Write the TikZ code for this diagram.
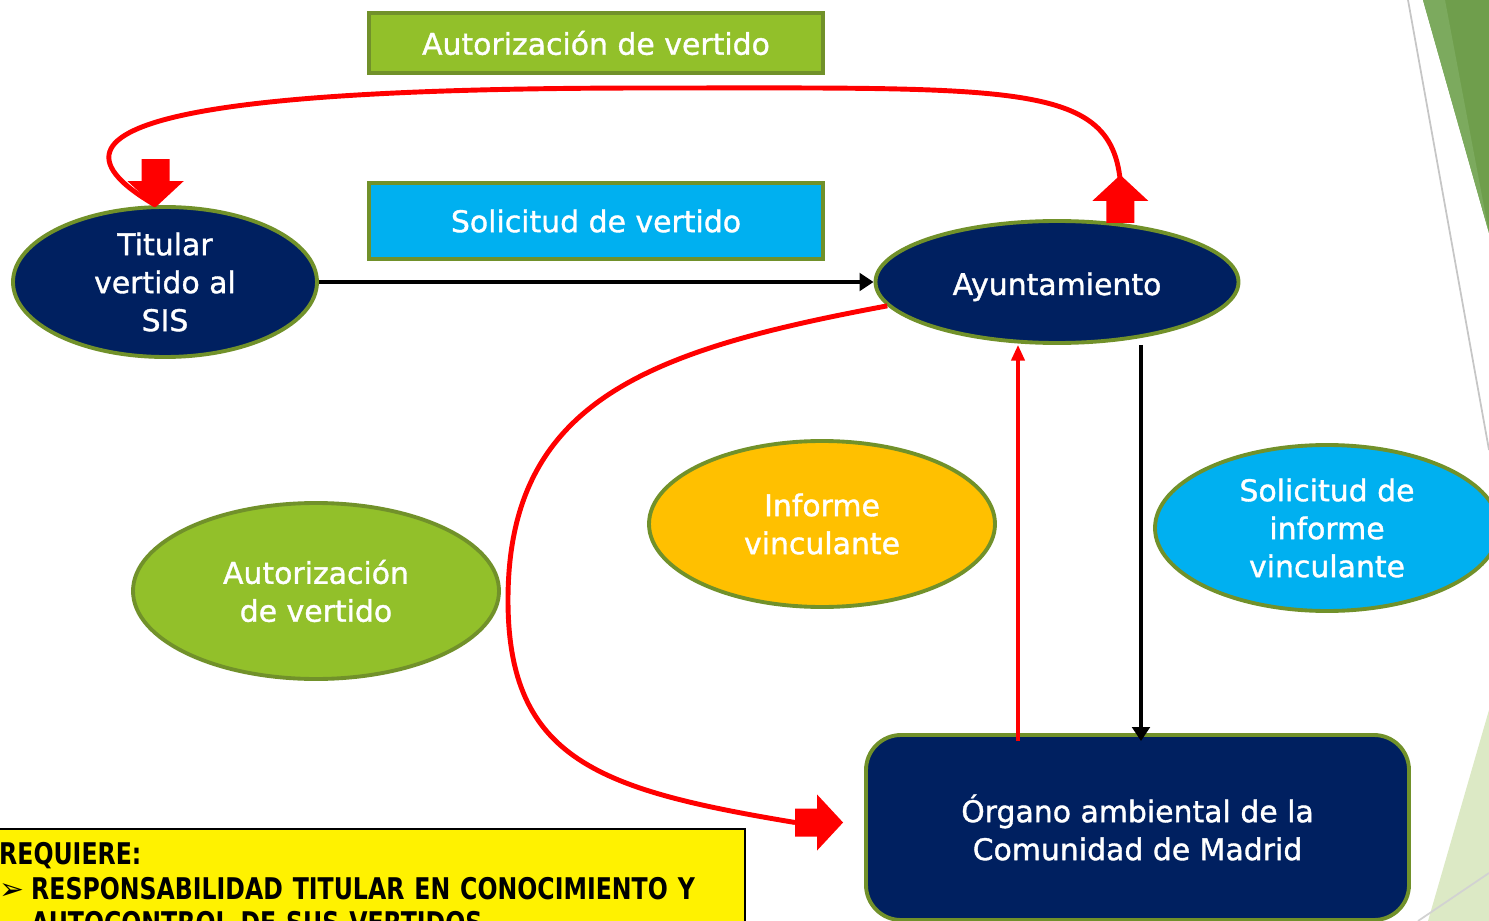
\documentclass[tikz,border=0pt]{standalone}
\usepackage{fontspec}
\setmainfont[FakeBold=1.2]{DejaVu Sans}
\newfontfamily\reqfont[FakeStretch=0.79]{DejaVu Sans}
\newfontfamily\symfont{DejaVu Sans}
\usetikzlibrary{shapes,arrows.meta,positioning,calc}
\definecolor{navy}{HTML}{002060}
\definecolor{olive}{HTML}{71912A}
\definecolor{leaf}{HTML}{92C02A}
\definecolor{sky}{HTML}{00B0F0}
\definecolor{amber}{HTML}{FFC000}
\definecolor{leafdark}{HTML}{6F9E4C}
\definecolor{leaflight}{HTML}{7CAA5E}
\definecolor{pale}{HTML}{DCE9C5}

\begin{document}
\begin{tikzpicture}[
    font=\fontsize{8.5}{10.8}\selectfont,
    box/.style={draw=olive, line width=1pt, text=white, minimum width=4.54cm},
    oval/.style={ellipse, draw=olive, line width=1.1pt, text=white, align=center, inner sep=0pt},
    blk/.style={-{Triangle[length=4pt,width=5pt]}, line width=1.1pt},
    redarr/.style={red, -{Triangle[length=4.5pt,width=3.8pt]}, line width=0.95pt},
    redcurve/.style={red, line width=1.4pt},
    blockarr/.pic={\fill[red] (0,0.14) -- (0.22,0.14) -- (0.22,0.28) -- (0.48,0) -- (0.22,-0.28) -- (0.22,-0.14) -- (0,-0.14) -- cycle;}
]
    \useasboundingbox (0,0) rectangle (14.89,-9.21);
    \clip (0,0) rectangle (14.89,-9.21);
    % Slide corner
    \draw[gray!45, line width=0.5pt] (14.08,0) -- (14.89,-4.5);
    \fill[leafdark] (14.23,0) -- (14.89,0) -- (14.89,-2.33) -- cycle;
    \fill[leaflight] (14.23,0) -- (14.45,0) -- (14.89,-2.33) -- cycle;
    \fill[pale] (14.89,-7.10) -- (14.28,-9.21) -- (14.89,-9.21) -- cycle;
    \draw[gray!35, line width=0.5pt] (14.18,-9.21) -- (14.89,-8.73);
    % Boxes
    \node[box, fill=leaf, minimum height=0.60cm] (autTop) at (5.96,-0.43) {Autorización de vertido};
    \node[box, fill=sky, minimum height=0.76cm] (solTop) at (5.96,-2.21) {Solicitud de vertido};
    % Ellipses
    \node[oval, fill=navy, minimum width=3.04cm, minimum height=1.50cm] (tit) at (1.65,-2.82) {Titular\\vertido al\\SIS};
    \node[oval, fill=navy, minimum width=3.63cm, minimum height=1.22cm, text height=0.26cm, text depth=0cm] (ayto) at (10.57,-2.82) {Ayuntamiento};
    \node[oval, fill=amber, minimum width=3.46cm, minimum height=1.66cm] (inf) at (8.22,-5.24) {Informe\\vinculante};
    \node[oval, fill=sky, minimum width=3.44cm, minimum height=1.66cm] (solInf) at (13.27,-5.28) {Solicitud de\\informe\\vinculante};
    \node[oval, fill=leaf, minimum width=3.66cm, minimum height=1.76cm] (autEll) at (3.16,-5.91) {Autorización\\de vertido};
    \node[draw=olive, line width=1.1pt, fill=navy, text=white, align=center, rounded corners=0.35cm,
          minimum width=5.43cm, minimum height=1.85cm] (org) at (11.375,-8.275) {Órgano ambiental de la\\Comunidad de Madrid};
    % Requirement note
    \node[draw=black, line width=0.7pt, fill=yellow, anchor=north west, align=left, text width=7.28cm,
          inner xsep=0.18cm, inner ysep=0.13cm, font=\reqfont\bfseries\fontsize{8.5}{9.9}\selectfont] (req) at (-0.2,-8.28)
          {REQUIERE:\\\makebox[0.32cm][l]{\symfont ➢}RESPONSABILIDAD TITULAR EN CONOCIMIENTO Y\\\hspace*{0.32cm}AUTOCONTROL DE SUS VERTIDOS};
    % Black arrows
    \draw[blk] (tit) -- (ayto);
    \coordinate (dn0) at ([xshift=0.84cm]ayto.south);
    \draw[blk, shorten >=-0.08cm] (dn0) -- (dn0 |- org.north);
    % Red arrows
    \coordinate (up0) at ([xshift=-1.195cm]org.north);
    \draw[redarr] ([yshift=-0.08cm]up0) -- (up0 |- ayto.south);
    \draw[redcurve] (ayto.43) .. controls (11.30,-0.80) and (10.60,-0.88) .. (6.50,-0.88)
        .. controls (2.50,-0.88) and (0,-1.15) .. (tit.97);
    \pic[rotate=-90] at ([yshift=0.46cm]tit.97) {blockarr};
    \pic[rotate=90] at (ayto.43) {blockarr};
    \coordinate (tailR) at ([shift={(-0.69,0.05)}]org.west);
    \draw[redcurve] (ayto.188) .. controls (6.50,-3.50) and (5.08,-4.00) .. (5.08,-6.00)
        .. controls (5.08,-7.60) and (6.00,-7.90) .. (tailR);
    \pic at (tailR) {blockarr};
\end{tikzpicture}
\end{document}
